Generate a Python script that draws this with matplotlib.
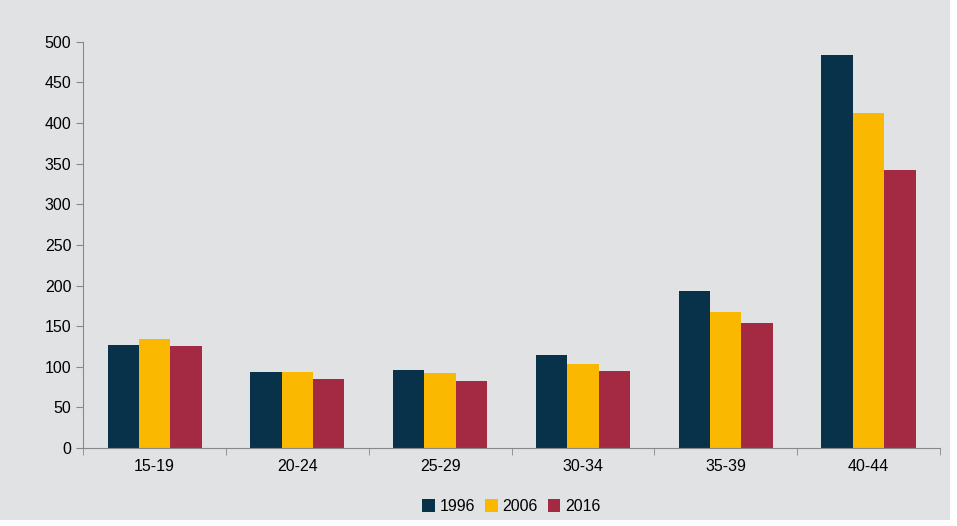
import numpy as np
import matplotlib.pyplot as plt

plt.rcParams['font.family'] = ['Liberation Sans', 'DejaVu Sans']

groups = ["15-19", "20-24", "25-29", "30-34", "35-39", "40-44"]
years = ["1996", "2006", "2016"]
v1996 = [127, 94, 96, 115, 193, 483]
v2006 = [134, 94, 92, 103, 167, 412]
v2016 = [126, 85, 83, 95, 154, 342]
colors = ["#07324a", "#fbb800", "#a42a44"]

bg = "#e1e2e4"
fig = plt.figure(figsize=(9.57, 5.26), dpi=100, facecolor="white")
fig.patches.append(plt.Rectangle((0, 0.012), 0.993, 0.988, transform=fig.transFigure,
                                 facecolor=bg, edgecolor="none", zorder=-1))
ax = fig.add_axes([0.087, 0.148, 0.895, 0.773], facecolor=bg)

x = np.arange(len(groups))
w = 0.22
for i, (vals, yr) in enumerate(zip([v1996, v2006, v2016], years)):
    ax.bar(x + (i - 1) * w, vals, w, color=colors[i], label=yr)

ax.set_xlim(-0.5, len(groups) - 0.5)
ax.set_ylim(0, 500)
ax.set_yticks(range(0, 501, 50))
ax.set_xticks(x)
ax.set_xticklabels(groups)
ax.set_xticks(np.arange(-0.5, len(groups), 1), minor=True)
ax.tick_params(axis="x", which="major", length=0, pad=8)
ax.tick_params(axis="x", which="minor", length=5, color="#888888")
ax.tick_params(axis="y", length=5, color="#888888")
ax.tick_params(labelsize=11.5)
for s in ["top", "right"]:
    ax.spines[s].set_visible(False)
for s in ["left", "bottom"]:
    ax.spines[s].set_color("#888888")

ax.legend(loc="upper center", bbox_to_anchor=(0.5, -0.09), ncol=3, frameon=False,
          fontsize=11.5, handlelength=0.8, handleheight=0.8, columnspacing=0.6, handletextpad=0.3)

fig.savefig("out.png", dpi=100, facecolor="white")
